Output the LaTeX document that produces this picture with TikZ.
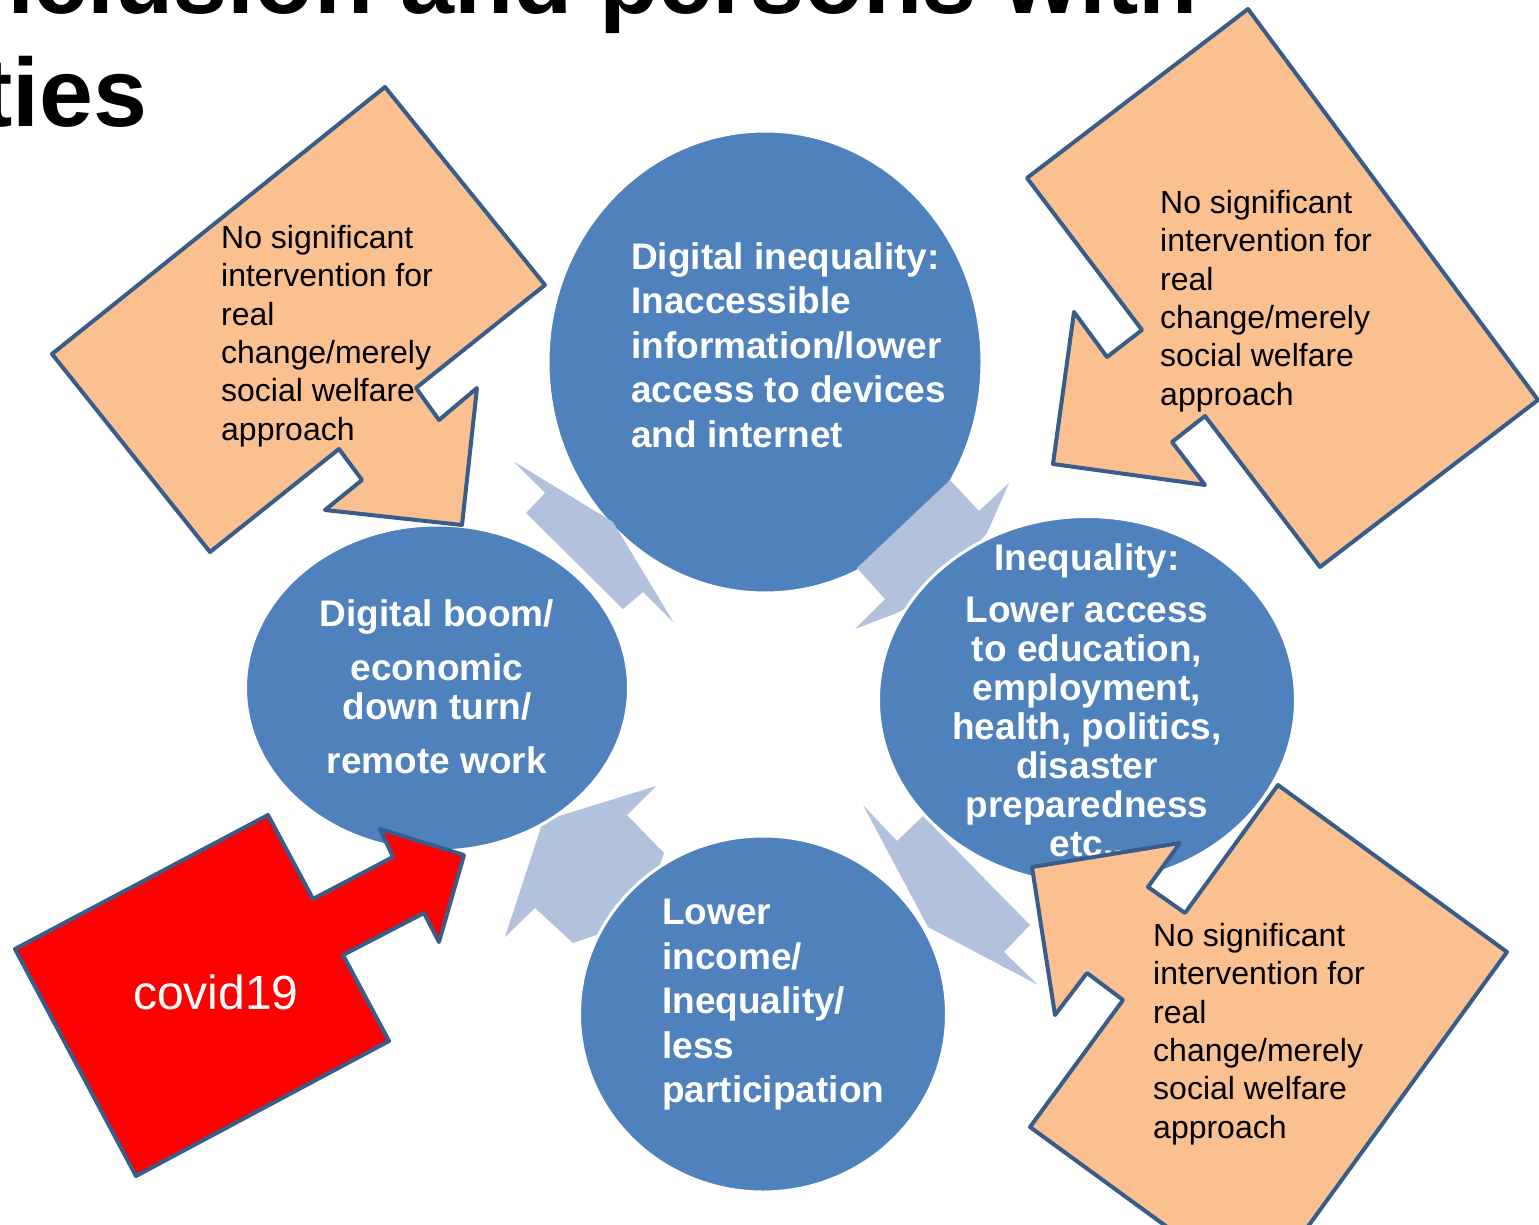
\documentclass[tikz,border=0pt]{standalone}
\usepackage{fontspec}
\setmainfont{Liberation Sans}
\usetikzlibrary{shapes.geometric}
\definecolor{cblue}{HTML}{4F81BD}
\definecolor{lblue}{HTML}{B3C2DC}
\definecolor{orng}{HTML}{FAC090}
\definecolor{edgeblue}{HTML}{385D8A}
\definecolor{cred}{HTML}{FF0000}
\begin{document}
\begin{tikzpicture}[x=1pt,y=-1pt,
  circ/.style={ellipse, fill=cblue, draw=white, line width=3pt, inner sep=0},
  ctext/.style={text=white, font=\fontsize{37}{39}\selectfont\bfseries, inner sep=0},
  callout/.style={fill=orng, draw=edgeblue, line width=4pt, line join=round},
  ctxt/.style={font=\fontsize{32}{38.4}\selectfont, align=left, inner sep=0, anchor=north west},
  cyc/.style={fill=lblue},
  ttl/.style={anchor=base east, inner sep=0, font=\fontsize{97}{100}\selectfont\bfseries}
]
\useasboundingbox (0,0) rectangle (1539,1225);
\clip (0,0) rectangle (1539,1225);
\fill[white] (0,0) rectangle (1539,1225);

% title
\node[ttl] (t1) at (1198,14) {nclusion and persons with};
\node[ttl] (t2) at (148,127) {ties};

% cycle: circles and light arrows
\node[circ, minimum width=434pt, minimum height=462pt] (top) at (765,362) {};
\fill[cyc] (950,480) -- (979,511) -- (1009,483) -- (987,533) -- (940,590) -- (897,613) -- (855,629) -- (885,599) -- (857,568) -- cycle;
\node[circ, minimum width=417pt, minimum height=367pt] (right) at (1087,700) {};
\fill[cyc] (863,805) -- (897,841) -- (923,816) -- (1030,925) -- (1004,952) -- (1038,985) -- (928,927) -- cycle;
\fill[cyc] (656,786) -- (627,815) -- (664,853) -- (640,920) -- (573,943) -- (535,908) -- (505,937) -- (543,821) -- cycle;
\node[circ, minimum width=367pt, minimum height=356pt] (bot) at (763,1014) {};
\node[circ, minimum width=383pt, minimum height=326pt] (left) at (437,688) {};
\fill[cyc] (513,461) -- (613,522) -- (674,623) -- (643,592) -- (623,609) -- (526,513) -- (545,493) -- cycle;

% circle texts
\node[ctext, font=\fontsize{37}{44.5}\selectfont\bfseries, align=left, anchor=north west] (toptxt) at (631,242)
  {Digital inequality:\\Inaccessible\\information/lower\\access to devices\\and internet};
\node[ctext, align=center, anchor=north] (righttxt) at (1087,543)
  {Inequality:\\[13pt]Lower access\\to education,\\employment,\\health, politics,\\disaster\\preparedness\\etc..};
\node[ctext, align=center, anchor=north] (lefttxt) at (437,599)
  {Digital boom/\\[15pt]economic\\down turn/\\[15pt]remote work};
\node[ctext, font=\fontsize{37}{44.5}\selectfont\bfseries, align=left, anchor=north west] (bottxt) at (662,899)
  {Lower\\income/\\Inequality/\\less\\participation};

% callouts
\draw[callout] (385,87) -- (545,285) -- (416,388) -- (439,420) -- (477,388) -- (462,525) -- (325,510) -- (362,480) -- (339,449) -- (210,552) -- (52,354) -- cycle;
\draw[callout] (1248,9) -- (1538,400) -- (1320,567) -- (1205,416) -- (1172,442) -- (1205,485) -- (1053,464) -- (1074,312) -- (1107,357) -- (1142,330) -- (1027,178) -- cycle;
\draw[callout] (1278,785) -- (1507,952) -- (1259,1294) -- (1030,1127) -- (1123,1000) -- (1087,973) -- (1055,1015) -- (1032,867) -- (1180,843) -- (1148,887) -- (1185,913) -- cycle;
\draw[callout, fill=cred] (15,949) -- (268,815) -- (313,899) -- (393,857) -- (380,829) -- (464,855) -- (439,942) -- (424,913) -- (343,955) -- (389,1041) -- (136,1176) -- cycle;

\node[ctxt] (ultxt) at (221,225) {No significant\\intervention for\\real\\change/merely\\social welfare\\approach};
\node[ctxt] (urtxt) at (1160,190) {No significant\\intervention for\\real\\change/merely\\social welfare\\approach};
\node[ctxt] (lrtxt) at (1153,923) {No significant\\intervention for\\real\\change/merely\\social welfare\\approach};
\node[text=white, font=\fontsize{48}{50}\selectfont, inner sep=0] (cov) at (216,992) {covid19};
\end{tikzpicture}
\end{document}
